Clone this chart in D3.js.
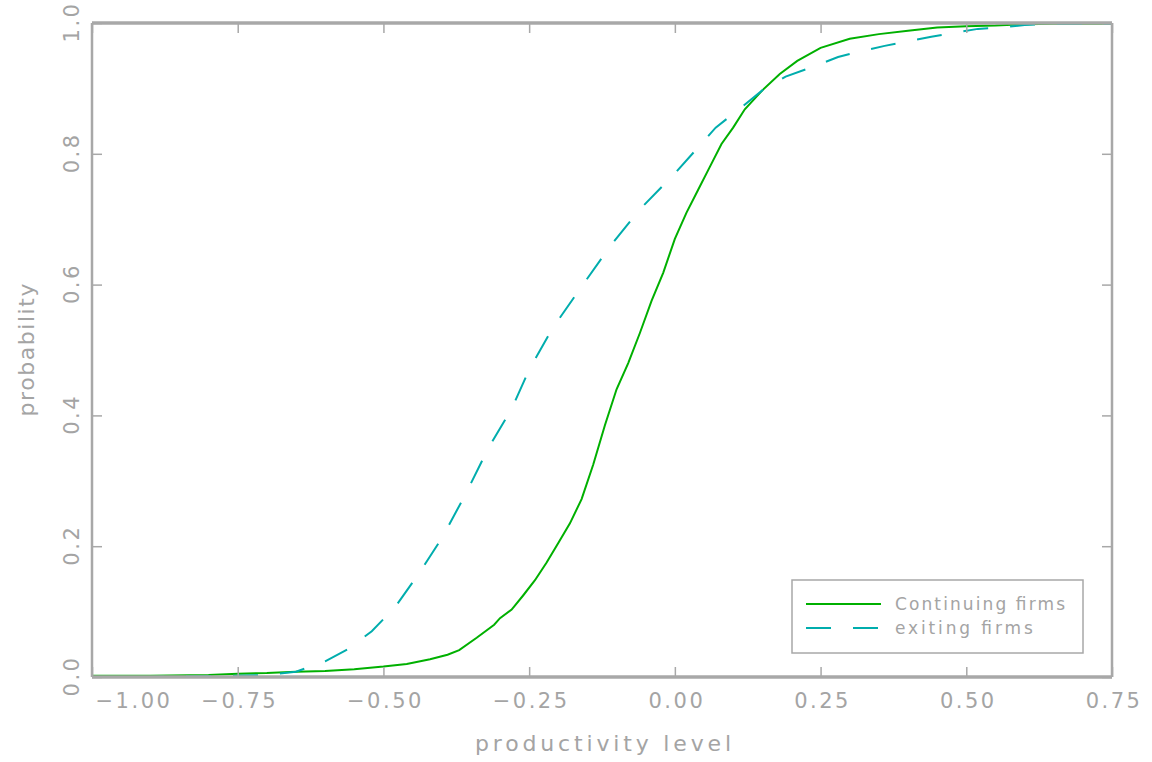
<!DOCTYPE html>
<html>
<head>
<meta charset="utf-8">
<script src="https://cdn.jsdelivr.net/npm/d3@7"></script>
<style>
  body { margin: 0; background: #fff; }
  text { font-family: "DejaVu Sans", sans-serif; fill: #a4a4a4; }
</style>
</head>
<body>
<svg id="plot" width="1152" height="762"></svg>
<script>
// continuing firms (solid green)
var contX = [-1.0, -0.9, -0.8, -0.75, -0.7, -0.65, -0.6, -0.55, -0.5, -0.46, -0.42, -0.39, -0.37, -0.34, -0.31, -0.3, -0.28,
  -0.26, -0.24, -0.22, -0.2, -0.18, -0.16, -0.14, -0.12, -0.1, -0.08, -0.06, -0.04, -0.02, 0.0, 0.02, 0.04, 0.06,
  0.08, 0.1, 0.12, 0.15, 0.18, 0.21, 0.25, 0.3, 0.35, 0.4, 0.45, 0.5, 0.55, 0.6, 0.65, 0.75];
var contY = [0.002, 0.002, 0.003, 0.005, 0.006, 0.008, 0.009, 0.012, 0.016, 0.02, 0.027, 0.034, 0.041, 0.06, 0.08, 0.09, 0.103,
  0.125, 0.148, 0.175, 0.205, 0.235, 0.272, 0.325, 0.385, 0.44, 0.48, 0.526, 0.575, 0.618, 0.67, 0.71, 0.745, 0.78,
  0.815, 0.84, 0.868, 0.897, 0.922, 0.942, 0.962, 0.976, 0.983, 0.988, 0.993, 0.995, 0.996, 0.998, 0.999, 0.999];

// exiting firms (dashed teal)
var exitX = [-1.0, -0.9, -0.8, -0.7, -0.65, -0.6, -0.56, -0.52, -0.48, -0.44, -0.4, -0.36, -0.32, -0.28, -0.25, -0.21,
  -0.16, -0.11, -0.06, 0.0, 0.04, 0.07, 0.11, 0.15, 0.19, 0.24, 0.28, 0.32, 0.36, 0.4, 0.44, 0.48, 0.52, 0.56,
  0.6, 0.65, 0.75];
var exitY = [0.0, 0.0, 0.001, 0.003, 0.008, 0.024, 0.043, 0.07, 0.107, 0.157, 0.212, 0.278, 0.35, 0.41, 0.47, 0.533,
  0.597, 0.66, 0.715, 0.77, 0.81, 0.84, 0.868, 0.897, 0.918, 0.934, 0.948, 0.957, 0.965, 0.972, 0.979, 0.985,
  0.991, 0.993, 0.997, 0.999, 0.999];

var xTicks = [-1.0, -0.75, -0.5, -0.25, 0.0, 0.25, 0.5, 0.75];
var yTicks = [0.0, 0.2, 0.4, 0.6, 0.8, 1.0];
var seriesNames = ["Continuing firms", "exiting firms"];

var gray = "#a8a8a8";
var green = "#00b000";
var teal = "#00adad";

var svg = d3.select("#plot");
// note: "top" is taken by window.top, so use other names
var plotLeft = 92, plotRight = 1112, plotTop = 23, plotBottom = 677;

var x = d3.scaleLinear().domain([-1.0, 0.75]).range([plotLeft, plotRight]);
var y = d3.scaleLinear().domain([0, 1]).range([plotBottom, plotTop]);

function fmtX(d){ return d3.format(".2f")(d).replace("-", "\u2212"); }

// curves
var line = d3.line()
  .x(function(d){ return x(d[0]); })
  .y(function(d){ return y(d[1]); });

svg.append("path")
  .datum(d3.zip(contX, contY))
  .attr("d", line)
  .attr("fill", "none")
  .attr("stroke", green)
  .attr("stroke-width", 2);

svg.append("path")
  .datum(d3.zip(exitX, exitY))
  .attr("d", line)
  .attr("fill", "none")
  .attr("stroke", teal)
  .attr("stroke-width", 2)
  .attr("stroke-dasharray", "25,22");

// ticks on all four sides, pointing inward
var bottomAxis = svg.append("g")
  .attr("transform", "translate(0," + plotBottom + ")")
  .call(d3.axisBottom(x).tickValues(xTicks).tickSize(-10).tickFormat(fmtX));
var topAxis = svg.append("g")
  .attr("transform", "translate(0," + plotTop + ")")
  .call(d3.axisTop(x).tickValues(xTicks).tickSize(-10).tickFormat(""));
var leftAxis = svg.append("g")
  .attr("transform", "translate(" + plotLeft + ",0)")
  .call(d3.axisLeft(y).tickValues(yTicks).tickSize(-10).tickFormat(d3.format(".1f")));
var rightAxis = svg.append("g")
  .attr("transform", "translate(" + plotRight + ",0)")
  .call(d3.axisRight(y).tickValues(yTicks).tickSize(-10).tickFormat(""));

svg.selectAll(".domain").remove();
svg.selectAll(".tick line").attr("stroke", gray).attr("stroke-width", 1.5);

bottomAxis.selectAll("text")
  .attr("y", 24)
  .attr("dy", "0.35em")
  .attr("dx", 1.5)
  .attr("fill", "#a4a4a4")
  .style("font-size", "21px")
  .style("letter-spacing", "2.5px");
bottomAxis.select(".tick text")
  .attr("text-anchor", "start")
  .attr("dx", 3);

leftAxis.selectAll("text")
  .attr("x", 0)
  .attr("y", 0)
  .attr("dy", "0.35em")
  .attr("dx", 1.5)
  .attr("text-anchor", "middle")
  .attr("transform", "translate(-20,0) rotate(-90)")
  .attr("fill", "#a4a4a4")
  .style("font-size", "21px")
  .style("letter-spacing", "2.5px");

// frame
svg.append("line").attr("x1", plotLeft).attr("x2", plotRight).attr("y1", plotTop).attr("y2", plotTop)
  .attr("stroke", gray).attr("stroke-width", 3.5);
svg.append("line").attr("x1", plotLeft).attr("x2", plotRight).attr("y1", plotBottom).attr("y2", plotBottom)
  .attr("stroke", gray).attr("stroke-width", 3.5);
svg.append("line").attr("x1", plotLeft).attr("x2", plotLeft).attr("y1", plotTop).attr("y2", plotBottom)
  .attr("stroke", gray).attr("stroke-width", 2.5);
svg.append("line").attr("x1", plotRight).attr("x2", plotRight).attr("y1", plotTop).attr("y2", plotBottom)
  .attr("stroke", gray).attr("stroke-width", 2.5);

// axis titles
svg.append("text")
  .attr("x", 603).attr("y", 743)
  .attr("dy", "0.35em")
  .attr("text-anchor", "middle")
  .attr("textLength", 256)
  .attr("lengthAdjust", "spacing")
  .style("font-size", "22px")
  .text("productivity level");

svg.append("text")
  .attr("transform", "translate(26,350) rotate(-90)")
  .attr("dy", "0.35em")
  .attr("text-anchor", "middle")
  .attr("textLength", 133)
  .attr("lengthAdjust", "spacing")
  .style("font-size", "22px")
  .text("probability");

// legend
var legend = svg.append("g");
legend.append("rect")
  .attr("x", 792).attr("y", 580)
  .attr("width", 291).attr("height", 73)
  .attr("fill", "#fff")
  .attr("stroke", gray)
  .attr("stroke-width", 1.5);

var legendRows = legend.selectAll("g.row")
  .data(seriesNames)
  .enter()
  .append("g")
  .attr("class", "row")
  .attr("transform", function(d, i){ return "translate(806," + (604 + i * 24) + ")"; });

legendRows.append("line")
  .attr("x1", 0).attr("x2", 75)
  .attr("stroke", function(d, i){ return i == 0 ? green : teal; })
  .attr("stroke-width", 2)
  .attr("stroke-dasharray", function(d, i){ return i == 0 ? null : "25,22"; });

legendRows.append("text")
  .attr("x", 89)
  .attr("dy", "0.35em")
  .attr("textLength", function(d){ return d.length * 10.75 - 2; })
  .attr("lengthAdjust", "spacing")
  .style("font-size", "17px")
  .text(function(d){ return d; });
</script>
</body>
</html>
